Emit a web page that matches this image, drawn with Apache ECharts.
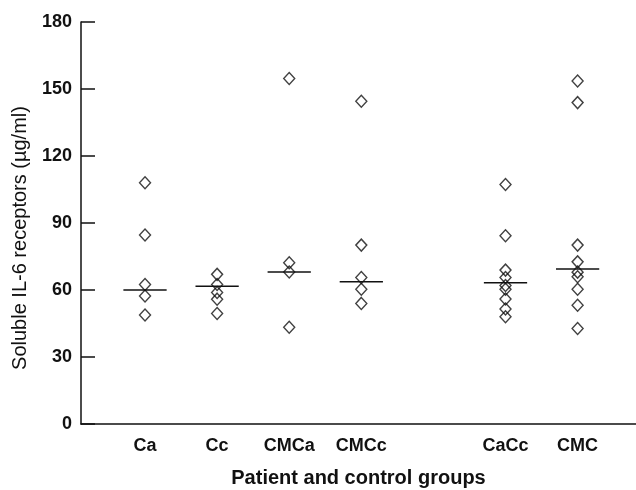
<!DOCTYPE html>
<html>
<head>
<meta charset="utf-8">
<script src="https://cdn.jsdelivr.net/npm/echarts@6/dist/echarts.min.js"></script>
<style>
  html, body { margin: 0; padding: 0; background: #fff; }
  #chart { width: 636px; height: 490px; }
</style>
</head>
<body>
<div id="chart"></div>
<script>
"use strict";
// group names and where they sit on the x scale (slot 5 is the empty gap)
var groups = ['Ca', 'Cc', 'CMCa', 'CMCc', 'CaCc', 'CMC'];
var groupPos = [1, 2, 3, 4, 6, 7];

// individual values
var caVals = [108, 84.6, 62.5, 57.3, 48.8];
var ccVals = [67, 62.5, 58.9, 55.9, 49.5];
var cmcaVals = [154.7, 72.2, 68.1, 43.3];
var cmccVals = [144.5, 80.1, 65.6, 60.3, 54];
var caccVals = [107.2, 84.3, 68.9, 65.6, 62, 60.3, 56, 51.5, 48];
var cmcVals = [153.6, 143.9, 80.1, 72.6, 68, 65.9, 60.3, 53.2, 42.8];

// median bars
var medians = [60, 61.7, 68.1, 63.7, 63.2, 69.4];

var yTicks = [0, 30, 60, 90, 120, 150, 180];

var fontFam = '"Liberation Sans", Arial, Helvetica, sans-serif';

var allVals = [caVals, ccVals, cmcaVals, cmccVals, caccVals, cmcVals];
var points = [];
allVals.forEach(function (vals, i) {
    vals.forEach(function (v) {
        points.push([groupPos[i], v]);
    });
});
var medianData = medians.map(function (m, i) { return [groupPos[i], m]; });

var chart = echarts.init(document.getElementById('chart'));
var option = {
    animation: false,
    backgroundColor: '#fff',
    grid: { left: 81, right: 0, top: 22, bottom: 66, outerBoundsMode: 'none' },
    xAxis: {
        type: 'value',
        min: 0.112,
        max: 7.81,
        name: 'Patient and control groups',
        nameLocation: 'middle',
        nameGap: 44,
        nameTextStyle: { fontFamily: fontFam, fontSize: 20, fontWeight: 'bold', color: '#111' },
        axisLine: { show: true, lineStyle: { color: '#111', width: 1.5 } },
        axisTick: { show: false },
        splitLine: { show: false },
        axisLabel: {
            customValues: groupPos,
            formatter: function (v) { return groups[groupPos.indexOf(v)]; },
            fontFamily: fontFam, fontSize: 18, fontWeight: 'bold', color: '#111',
            margin: 13
        }
    },
    yAxis: {
        type: 'value',
        min: 0,
        max: 180,
        interval: 30,
        name: 'Soluble IL-6 receptors (\u00b5g/ml)',
        nameLocation: 'middle',
        nameGap: 51,
        nameTextStyle: { fontFamily: fontFam, fontSize: 20, color: '#111', padding: [0, 30, 0, 0] },
        axisLine: { show: true, lineStyle: { color: '#111', width: 1.5 } },
        axisTick: { show: true, inside: true, length: 14, lineStyle: { color: '#111', width: 1.5 } },
        splitLine: { show: false },
        axisLabel: {
            customValues: yTicks,
            fontFamily: fontFam, fontSize: 18, fontWeight: 'bold', color: '#111',
            margin: 9
        }
    },
    series: [
        {
            type: 'scatter',
            data: points,
            symbol: 'diamond',
            symbolSize: [11, 12],
            itemStyle: { color: 'rgba(0,0,0,0)', borderColor: '#111', borderWidth: 1.4 },
            z: 3
        },
        {
            type: 'custom',
            data: medianData,
            renderItem: function (params, api) {
                var x = api.value(0), m = api.value(1);
                var p1 = api.coord([x - 0.3, m]);
                var p2 = api.coord([x + 0.3, m]);
                return {
                    type: 'line',
                    shape: { x1: p1[0], y1: p1[1], x2: p2[0], y2: p2[1] },
                    style: { stroke: '#111', lineWidth: 1.5 }
                };
            },
            z: 4
        }
    ]
};
chart.setOption(option);
</script>
</body>
</html>
